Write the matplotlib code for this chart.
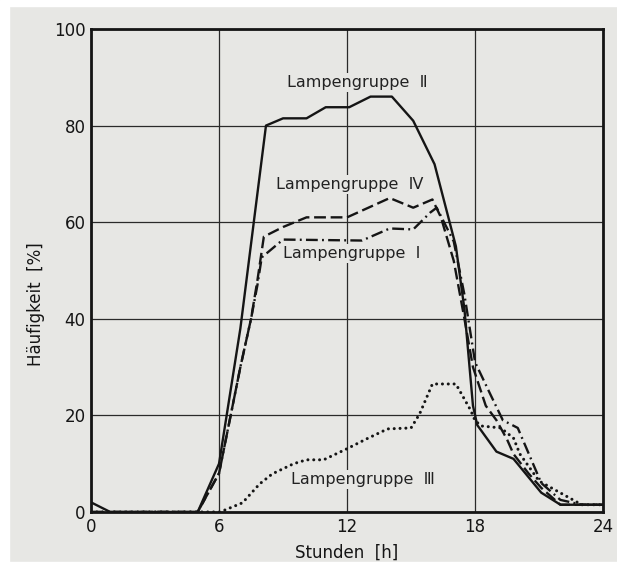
import matplotlib
matplotlib.use("Agg")
import matplotlib.pyplot as plt
from matplotlib.patches import Rectangle

# hours / frequency [%]
hours_II = [0, 0.9, 5.0, 6.0, 7.0, 8.2, 9.0, 10.1, 11.0, 12.1, 13.1, 14.1, 15.1, 16.1, 17.1, 17.5, 17.9, 18.1, 19.0, 19.8, 21.1, 22.0, 24]
freq_II = [2, 0, 0, 10, 38, 80, 81.5, 81.5, 83.8, 83.8, 86, 86, 81, 72, 55, 42, 22, 18, 12.5, 11, 4, 1.5, 1.5]

hours_IV = [0, 5.0, 6.0, 6.5, 7.0, 7.5, 7.8, 8.1, 9.0, 10.1, 12.0, 14.0, 15.1, 16.0, 16.4, 17.0, 17.5, 17.9, 18.5, 19.0, 19.5, 19.8, 20.5, 21.1, 22.0, 24]
freq_IV = [0, 0, 8, 19, 30, 40, 48, 57, 59, 61, 61, 65, 63, 64.7, 61, 52, 40, 30, 22, 19, 15, 12, 8, 5, 1.5, 1.5]

hours_I = [0, 5.0, 6.0, 6.5, 7.0, 7.5, 7.8, 8.0, 9.0, 12.7, 14.0, 15.1, 15.9, 16.2, 17.0, 17.5, 18.0, 18.7, 19.3, 20.0, 21.1, 22.0, 23.0, 24]
freq_I = [0, 0, 8, 19, 30, 40, 47, 52.7, 56.4, 56.2, 58.7, 58.5, 62, 63, 56, 45, 31, 24.5, 19, 17.4, 6, 2.5, 1.5, 1.5]

hours_III = [0, 6.05, 7.1, 7.9, 8.5, 9.5, 10.1, 10.9, 12.0, 12.9, 13.9, 15.0, 15.4, 16.0, 17.1, 17.8, 18.0, 18.3, 19.2, 19.8, 20.1, 21.0, 23.0, 24]
freq_III = [0, 0, 1.9, 5.8, 7.9, 10, 10.8, 10.8, 13.1, 15.1, 17.2, 17.4, 20.3, 26.5, 26.5, 21, 18.9, 17.8, 17.4, 15.3, 12, 6.4, 1.5, 1.5]

x_ticks = [0, 6, 12, 18, 24]
y_ticks = [0, 20, 40, 60, 80, 100]

labels = ["Lampengruppe  Ⅱ", "Lampengruppe  Ⅳ", "Lampengruppe  Ⅰ", "Lampengruppe  Ⅲ"]
label_pos = [(9.2, 89), (8.65, 67.8), (9.0, 53.5), (9.35, 6.8)]

paper = "#e7e7e4"
ink = "#151515"

plt.rcParams["font.family"] = ["DejaVu Sans"]

fig = plt.figure(figsize=(6.17, 5.75), dpi=100, facecolor=paper)
# white scan margins
fig.patches.append(Rectangle((0, 0), 0.014, 1, transform=fig.transFigure, color="white", zorder=-1))
fig.patches.append(Rectangle((0, 0), 1, 0.022, transform=fig.transFigure, color="white", zorder=-1))
fig.patches.append(Rectangle((0, 0.99), 1, 0.01, transform=fig.transFigure, color="white", zorder=-1))

ax = fig.add_axes([0.1475, 0.1096, 0.830, 0.840])
ax.set_facecolor(paper)

ax.plot(hours_II, freq_II, color=ink, lw=1.7, zorder=4)
ax.plot(hours_IV, freq_IV, color=ink, lw=1.7, ls=(0, (5, 2)), zorder=4)
ax.plot(hours_I, freq_I, color=ink, lw=1.7, ls=(0, (5, 1.8, 0.8, 1.8)), zorder=4)
ax.plot(hours_III, freq_III, color=ink, lw=2.2, ls=(0, (0.01, 1.9)),
        dash_capstyle="round", zorder=4)

ax.set_xlim(0, 24)
ax.set_ylim(0, 100)
ax.set_xticks(x_ticks)
ax.set_yticks(y_ticks)
ax.tick_params(length=0, labelsize=12, colors=ink, pad=4)
ax.grid(True, color="#2a2a2a", lw=0.9)
ax.set_axisbelow(True)
for s in ax.spines.values():
    s.set_linewidth(2.0)
    s.set_color(ink)

for txt, (x, y) in zip(labels, label_pos):
    ax.text(x, y, txt, fontsize=11.5, color="#222222", va="center", ha="left", zorder=3,
            bbox=dict(facecolor=paper, edgecolor="none", pad=1.5))

ax.set_xlabel("Stunden  [h]", fontsize=12, color=ink, labelpad=6)
ax.set_ylabel("Häufigkeit  [%]", fontsize=12, color=ink)
ax.yaxis.set_label_coords(-0.09, 0.43)

fig.savefig("out.png", dpi=100, facecolor=fig.get_facecolor())
